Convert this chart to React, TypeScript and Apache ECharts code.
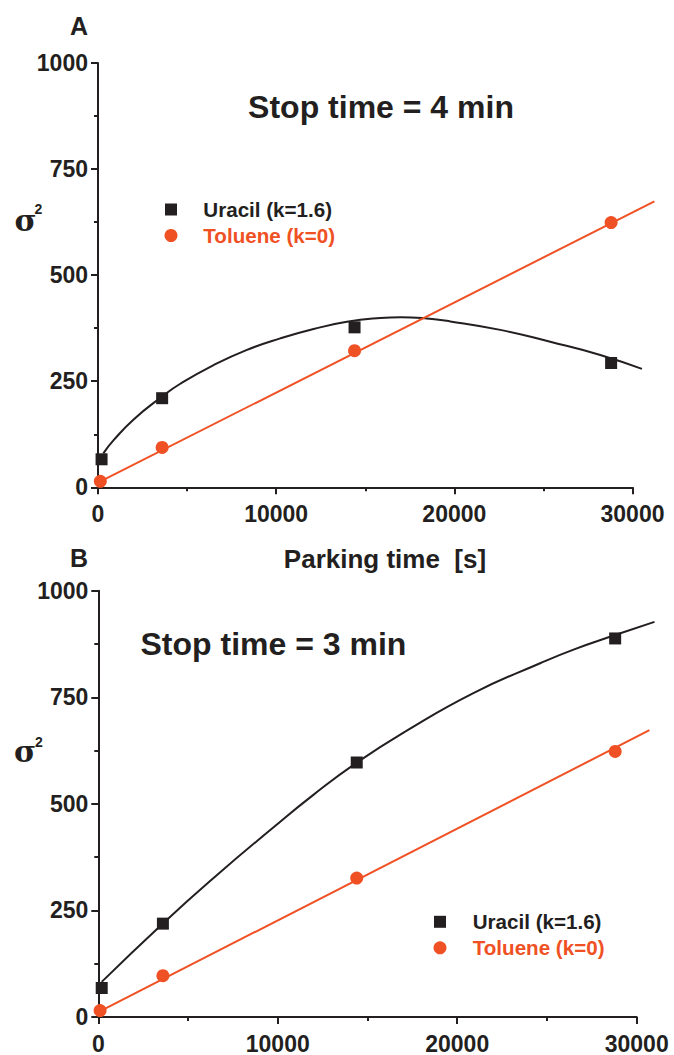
import React, { useEffect, useRef } from "react";
import * as echarts from "echarts";

// Measured band broadening (sigma^2) versus parking time [s]
const uracilA = [[200, 66], [3600, 210], [14400, 377], [28800, 293]];
const tolueneA = [[130, 14], [3600, 94], [14400, 322], [28800, 624]];
const uracilB = [[190, 68], [3600, 219], [14400, 597], [28800, 888]];
const tolueneB = [[100, 15], [3600, 97], [14400, 326], [28800, 623]];

// Fitted curves (points along each fit); they run a little past the last tick
const uracilFitA = [
  [300, 80], [876, 111], [2000, 160], [3600, 214], [4618, 244], [6487, 288],
  [8361, 324], [10230, 351], [12100, 373], [13970, 390], [15840, 399],
  [17000, 401], [18180, 399], [19770, 391], [22580, 371], [25380, 343],
  [28190, 312], [30530, 279],
];
const tolueneFitA = [[0, 11], [31230, 674]];
const uracilFitB = [
  [190, 83], [3600, 220], [6600, 333], [9665, 442], [12000, 522], [14400, 597],
  [17190, 672], [20900, 760], [24620, 830], [26480, 862], [28800, 896],
  [30990, 927],
];
const tolueneFitB = [[0, 12], [30710, 673]];

const stopTimes = ["Stop time = 4 min", "Stop time = 3 min"];
const panelLetters = ["A", "B"];
const legendNames = ["Uracil (k=1.6)", "Toluene (k=0)"];
const xAxisTitle = "Parking time  [s]";

const INK = "#231f20";
const ORANGE = "#f05124";
const SANS = "'Liberation Sans', Arial, Helvetica, sans-serif";

const X_MAX = 30000;
const X_FIT_MAX = 32000; // wider scale for the fit lines, same px per second

const panels = [
  { left: 98, top: 63, width: 534.5, height: 424.3 },
  { left: 98.3, top: 590.7, width: 538.4, height: 426.6 },
];

function axisPair(gridIndex: number) {
  const common = {
    gridIndex,
    type: "value" as const,
    axisLine: { show: true, onZero: false, lineStyle: { color: INK, width: 2 } },
    axisTick: { show: true, inside: false, length: 7, lineStyle: { color: INK, width: 2 } },
    minorTick: { show: true, splitNumber: 2, length: 4, lineStyle: { color: INK, width: 2 } },
    splitLine: { show: false },
    minorSplitLine: { show: false },
    axisLabel: {
      color: INK,
      fontFamily: SANS,
      fontWeight: "bold" as const,
      fontSize: 23,
      formatter: (v: number) => String(v),
    },
  };
  return {
    x: { ...common, min: 0, max: X_MAX, interval: 10000, axisLabel: { ...common.axisLabel, margin: 15 } },
    y: { ...common, min: 0, max: 1000, interval: 250, axisLabel: { ...common.axisLabel, margin: 10 } },
  };
}

function hiddenAxes(gridIndex: number) {
  return {
    x: { gridIndex, type: "value" as const, min: 0, max: X_FIT_MAX, show: false },
    y: { gridIndex, type: "value" as const, min: 0, max: 1000, show: false },
  };
}

function markSeries(idx: number, uracil: number[][], toluene: number[][]) {
  const base = { xAxisIndex: idx, yAxisIndex: idx, clip: false };
  return [
    {
      ...base,
      name: legendNames[0],
      type: "scatter",
      data: uracil,
      symbol: "rect",
      symbolSize: 12,
      itemStyle: { color: INK, opacity: 1 },
      z: 3,
    },
    {
      ...base,
      name: legendNames[1],
      type: "scatter",
      data: toluene,
      symbol: "circle",
      symbolSize: 13,
      itemStyle: { color: ORANGE, opacity: 1 },
      z: 3,
    },
  ];
}

function fitSeries(idx: number, uFit: number[][], tFit: number[][]) {
  const base = { xAxisIndex: idx, yAxisIndex: idx, clip: false, showSymbol: false, z: 2 };
  return [
    {
      ...base,
      name: legendNames[0] + " fit",
      type: "line",
      data: uFit,
      smooth: 0.5,
      lineStyle: { color: INK, width: 2 },
    },
    {
      ...base,
      name: legendNames[1] + " fit",
      type: "line",
      data: tFit,
      lineStyle: { color: ORANGE, width: 2 },
    },
  ];
}

function text(x: number, y: number, t: string, size: number, opts: any = {}) {
  return {
    type: "text",
    x,
    y,
    z: 10,
    style: {
      text: t,
      fontSize: size,
      fontWeight: "bold",
      fontFamily: SANS,
      fill: INK,
      align: "left",
      verticalAlign: "middle",
      ...opts,
    },
  };
}

function legendBlock(mx: number, yU: number, yT: number, tx: number) {
  return [
    { type: "rect", z: 10, shape: { x: mx - 6, y: yU - 6, width: 12, height: 12 }, style: { fill: INK } },
    { type: "circle", z: 10, shape: { cx: mx, cy: yT, r: 6.5 }, style: { fill: ORANGE } },
    text(tx, yU, legendNames[0], 20.6),
    text(tx, yT, legendNames[1], 20.6, { fill: ORANGE }),
  ];
}

const SIGMA_FONT = "'DejaVu Serif', 'Liberation Serif', serif";

export default function App() {
  const ref = useRef<HTMLDivElement>(null);

  useEffect(() => {
    if (!ref.current) return;
    const chart = echarts.init(ref.current, undefined, { renderer: "svg" });
    const a = axisPair(0);
    const b = axisPair(1);
    const ha = hiddenAxes(2);
    const hb = hiddenAxes(3);
    const wide = (g: typeof panels[number]) => ({ ...g, width: (g.width * X_FIT_MAX) / X_MAX });

    chart.setOption({
      animation: false,
      backgroundColor: "#ffffff",
      grid: [panels[0], panels[1], wide(panels[0]), wide(panels[1])],
      xAxis: [a.x, b.x, ha.x, hb.x],
      yAxis: [a.y, b.y, ha.y, hb.y],
      series: [
        ...fitSeries(2, uracilFitA, tolueneFitA),
        ...fitSeries(3, uracilFitB, tolueneFitB),
        ...markSeries(0, uracilA, tolueneA),
        ...markSeries(1, uracilB, tolueneB),
      ],
      graphic: [
        text(70, 25.5, panelLetters[0], 25),
        text(70, 557.5, panelLetters[1], 25),
        text(381, 106.7, stopTimes[0], 32, { align: "center" }),
        text(273.4, 643.8, stopTimes[1], 32, { align: "center" }),
        text(385, 559.3, xAxisTitle, 26, { align: "center" }),
        text(25.5, 220, "σ", 30, { align: "center", fontFamily: SIGMA_FONT }),
        text(38.5, 208.7, "2", 14, { align: "center" }),
        text(25, 751, "σ", 30, { align: "center", fontFamily: SIGMA_FONT }),
        text(39, 741.7, "2", 14, { align: "center" }),
        ...legendBlock(171, 209.5, 235.5, 203.3),
        ...legendBlock(440, 921.8, 947.8, 472.7),
      ],
    });

    return () => chart.dispose();
  }, []);

  return (
    <div
      ref={ref}
      style={{ position: "absolute", left: 0, top: 0, width: 674, height: 1055 }}
    />
  );
}
